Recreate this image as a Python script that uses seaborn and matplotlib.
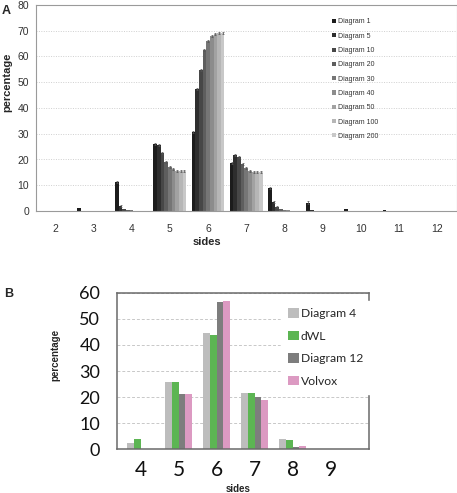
import numpy as np
import pandas as pd
import matplotlib
matplotlib.use("Agg")
import matplotlib.pyplot as plt
from matplotlib.container import BarContainer
import seaborn as sns

sns.set_style("white")
plt.rcParams["font.family"] = ["Liberation Sans", "DejaVu Sans"]

# ---- panel A data: percentage of cells with n sides, per diagram iteration
sides_a = [2, 3, 4, 5, 6, 7, 8, 9, 10, 11, 12]
diagrams_a = ["Diagram 1", "Diagram 5", "Diagram 10", "Diagram 20", "Diagram 30",
              "Diagram 40", "Diagram 50", "Diagram 100", "Diagram 200"]
vals_a = {
    "Diagram 1":   [0, 1.0, 11.2, 26.2, 30.5, 18.6, 8.8, 3.3, 0.7, 0.2, 0],
    "Diagram 5":   [0, 0, 1.8, 25.8, 47.5, 21.7, 3.6, 0.3, 0, 0, 0],
    "Diagram 10":  [0, 0, 0.7, 22.7, 54.6, 21.0, 1.4, 0, 0, 0, 0],
    "Diagram 20":  [0, 0, 0.4, 19.1, 62.4, 18.2, 0.6, 0, 0, 0, 0],
    "Diagram 30":  [0, 0, 0.2, 17.1, 66.2, 16.6, 0.3, 0, 0, 0, 0],
    "Diagram 40":  [0, 0, 0.1, 16.2, 67.8, 15.7, 0.2, 0, 0, 0, 0],
    "Diagram 50":  [0, 0, 0, 15.7, 68.6, 15.3, 0.1, 0, 0, 0, 0],
    "Diagram 100": [0, 0, 0, 15.6, 69.0, 15.1, 0.1, 0, 0, 0, 0],
    "Diagram 200": [0, 0, 0, 15.6, 69.0, 15.1, 0.1, 0, 0, 0, 0],
}
colors_a = ["#1c1c1c", "#2e2e2e", "#474747", "#5e5e5e", "#767676",
            "#8c8c8c", "#a2a2a2", "#b6b6b6", "#c8c8c8"]

# ---- panel B data
sides_b = [4, 5, 6, 7, 8, 9]
series_b = ["Diagram 4", "dWL", "Diagram 12", "Volvox"]
vals_b = {
    "Diagram 4":  [2.5, 25.9, 44.4, 21.5, 4.1, 0.2],
    "dWL":        [3.8, 25.9, 43.9, 21.5, 3.4, 0.3],
    "Diagram 12": [0.2, 21.3, 56.6, 20.0, 0.9, 0.1],
    "Volvox":     [0.3, 21.3, 56.8, 18.8, 1.3, 0.1],
}
colors_b = ["#bdbdbd", "#5cb553", "#7d7d7d", "#dc9ac2"]

df_a = pd.DataFrame([(s, d, v) for d in diagrams_a for s, v in zip(sides_a, vals_a[d])],
                    columns=["sides", "diagram", "percentage"])
df_b = pd.DataFrame([(s, d, v) for d in series_b for s, v in zip(sides_b, vals_b[d])],
                    columns=["sides", "diagram", "percentage"])

fig = plt.figure(figsize=(4.57, 4.93), dpi=100)
W, H = 457, 493

# ================= panel A
ax1 = fig.add_axes([36 / W, 1 - 211 / H, 420.5 / W, 206 / H])
sns.barplot(data=df_a, x="sides", y="percentage", hue="diagram", hue_order=diagrams_a,
            palette=colors_a, width=0.86, errorbar=None, saturation=1, ax=ax1,
            linewidth=0)
# tiny error caps on top of visible bars
bar_conts = [c for c in ax1.containers if isinstance(c, BarContainer)]
for cont in bar_conts:
    for bar in cont:
        h = bar.get_height()
        if h > 1:
            ax1.errorbar(bar.get_x() + bar.get_width() / 2, h, yerr=0.4,
                         fmt="none", ecolor="#555555", elinewidth=0.5,
                         capsize=1.0, capthick=0.5, zorder=3)
ax1.set_ylim(0, 80)
ax1.set_xlim(-0.5, len(sides_a) - 0.5)
ax1.set_yticks(range(0, 81, 10))
ax1.yaxis.grid(True, linestyle=(0, (1, 1.5)), color="#cfcfcf", linewidth=0.7)
ax1.set_axisbelow(True)
ax1.tick_params(axis="y", length=0, pad=5, labelsize=7.5, labelcolor="#333333")
ax1.tick_params(axis="x", which="major", length=0, pad=9, labelsize=7.5, labelcolor="#333333")
ax1.set_xticks(np.arange(-0.5, len(sides_a), 1.0), minor=True)
ax1.tick_params(axis="x", which="minor", length=3, color="#aaaaaa", width=0.6)
for sp in ax1.spines.values():
    sp.set_visible(True)
    sp.set_color("#9a9a9a")
    sp.set_linewidth(0.8)
ax1.set_xlabel("")
ax1.set_ylabel("")
h1, l1 = ax1.get_legend_handles_labels()
ax1.legend(h1, l1, loc="upper left", bbox_to_anchor=(329 / W, 1 - 15 / H),
           bbox_transform=fig.transFigure, frameon=False, fontsize=5,
           handlelength=0.55, handleheight=0.55, handletextpad=0.2,
           labelspacing=1.05, borderpad=0, labelcolor="#333333")
fig.text(7 / W, 1 - 82 / H, "percentage", rotation=90, ha="center", va="center",
         fontsize=8, fontweight="bold")
fig.text(207 / W, 1 - 242 / H, "sides", ha="center", va="center",
         fontsize=8, fontweight="bold")
fig.text(2 / W, 1 - 11 / H, "A", ha="left", va="center", fontsize=9, fontweight="bold")

# ================= panel B
ax2 = fig.add_axes([117 / W, 1 - 449.3 / H, 252 / W, 156.6 / H])
sns.barplot(data=df_b, x="sides", y="percentage", hue="diagram", hue_order=series_b,
            palette=colors_b, width=0.7, errorbar=None, saturation=1, ax=ax2,
            linewidth=0)
ax2.set_ylim(0, 60)
ax2.set_xlim(-0.624, 6.008)
ax2.set_yticks(range(0, 61, 10))
ax2.yaxis.grid(True, linestyle=(0, (3, 2)), color="#c8c8c8", linewidth=0.7)
ax2.set_axisbelow(True)
ax2.tick_params(axis="y", length=0, pad=12, labelsize=13, labelcolor="#111111")
ax2.tick_params(axis="x", which="major", length=0, pad=8, labelsize=15, labelcolor="#111111")
for lab in ax2.get_xticklabels() + ax2.get_yticklabels():
    lab.set_family(["Lato", "DejaVu Sans"])
ax2.set_xticks(np.arange(-0.5, len(sides_b) + 0.5, 1.0), minor=True)
ax2.tick_params(axis="x", which="minor", length=5, color="#999999", width=0.8)
for sp in ax2.spines.values():
    sp.set_visible(True)
    sp.set_color("#6a6a6a")
    sp.set_linewidth(1.1)
ax2.set_xlabel("")
ax2.set_ylabel("")
h2, l2 = ax2.get_legend_handles_labels()
leg2 = ax2.legend(h2, l2, loc="upper left", bbox_to_anchor=(275 / W, 1 - 295 / H),
                  bbox_transform=fig.transFigure, frameon=True,
                  prop={"family": ["Lato", "DejaVu Sans"], "size": 8.7},
                  handlelength=0.85, handleheight=0.85, handletextpad=0.2,
                  labelspacing=0.95, borderpad=0.6, facecolor="white",
                  edgecolor="white", framealpha=1, fancybox=False)
fig.text(55 / W, 1 - 355 / H, "percentage", rotation=90, ha="center", va="center",
         fontsize=7, fontweight="bold")
fig.text(238 / W, 1 - 489 / H, "sides", ha="center", va="center",
         fontsize=7, fontweight="bold")
fig.text(4 / W, 1 - 294 / H, "B", ha="left", va="center", fontsize=9, fontweight="bold")

fig.savefig("out.png", dpi=100)
